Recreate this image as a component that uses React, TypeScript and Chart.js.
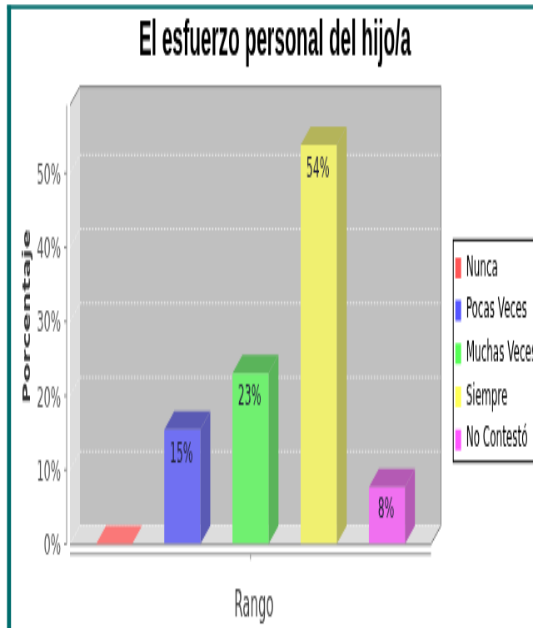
import React, { useEffect, useRef } from "react";
import { Chart, registerables } from "chart.js";

Chart.register(...registerables);

const titleText = "El esfuerzo personal del hijo/a";
const categories = [""];
const seriesNames = ["Nunca", "Pocas Veces", "Muchas Veces", "Siempre", "No Contestó"];
const seriesValues = [0, 15.4, 23, 53.8, 7.7];
const valueLabels = ["", "15%", "23%", "54%", "8%"];
const frontColors = ["#fa7878", "#7070f2", "#70f070", "#f0f070", "#f070f0"];
const sideColors = ["#fa7878", "#5a5ab4", "#5ab45a", "#b4b45a", "#b45ab4"];
const legendColors = ["#ff5555", "#5555ff", "#55ff55", "#ffff55", "#ff55ff"];

const W = 640;
const H = 273;
const DX = 12;
const DY = 8;
const FAMILY = "'DejaVu Sans', sans-serif";

const shiftTitle = (scale: any, ctx: any, dx: number, dy: number) => {
  if (scale.__shifted) return;
  const orig = scale.drawTitle;
  scale.drawTitle = function () {
    ctx.save();
    ctx.translate(dx, dy);
    orig.call(this);
    ctx.restore();
  };
  scale.__shifted = true;
};

const scene3d = {
  id: "scene3d",
  beforeLayout(chart: any) {
    const lg = chart.legend;
    if (lg && !lg.__patched) {
      const orig = lg.fit;
      lg.fit = function () {
        orig.call(this);
        this.width = 122.5;
      };
      lg.__patched = true;
    }
  },
  afterLayout(chart: any) {
    const lg = chart.legend;
    if (lg) {
      lg.left = 540;
      lg.right = 640;
      lg.top = 61.3;
      lg.bottom = 246.3;
      lg.width = 100;
      lg.height = 185;
    }
  },
  beforeDraw(chart: any) {
    const c = chart.ctx;
    shiftTitle(chart.scales.x, c, 4.2, 2);
    shiftTitle(chart.scales.y, c, 0, -3.5);
    c.save();
    c.fillStyle = "#ffffff";
    c.fillRect(0, 0, W, H);
    c.fillStyle = "#006c6c";
    c.fillRect(8.4, 2.2, W, 1.7);
    c.fillRect(8.4, 2.2, 4.8, H);
    c.restore();
  },
  beforeDatasetsDraw(chart: any) {
    const c = chart.ctx;
    const { left: l, right: r, top: t, bottom: b } = chart.chartArea;
    const poly = (pts: number[][], fill: string) => {
      c.beginPath();
      pts.forEach((p, i) => (i ? c.lineTo(p[0], p[1]) : c.moveTo(p[0], p[1])));
      c.closePath();
      c.fillStyle = fill;
      c.fill();
    };
    const seg = (x1: number, y1: number, x2: number, y2: number) => {
      c.beginPath();
      c.moveTo(x1, y1);
      c.lineTo(x2, y2);
      c.stroke();
    };
    c.save();
    poly([[l + DX, t - DY], [r + DX, t - DY], [r + DX, b - DY], [l + DX, b - DY]], "#c0c0c0");
    poly([[l, t], [l + DX, t - DY], [l + DX, b - DY], [l, b]], "#dddddd");
    poly([[l, b], [l + DX, b - DY], [r + DX, b - DY], [r, b]], "#dddddd");

    const yScale = chart.scales.y;
    c.strokeStyle = "#ececec";
    c.lineWidth = 1;
    c.setLineDash([1.8, 1.8]);
    yScale.ticks.forEach((tk: any) => {
      const y = yScale.getPixelForValue(tk.value);
      seg(l + DX, y - DY, r + DX, y - DY);
    });
    c.strokeStyle = "#eeeeee";
    yScale.ticks.forEach((tk: any) => {
      const y = yScale.getPixelForValue(tk.value);
      seg(l, y, l + DX, y - DY);
    });
    c.setLineDash([]);

    c.strokeStyle = "#808080";
    c.lineWidth = 1;
    seg(l, t, l + DX, t - DY);
    seg(l + DX, t - DY, r + DX, t - DY);
    seg(r + DX, t - DY, r + DX, b - DY);
    seg(r + DX, b - DY, r, b);
    seg(l, b + 0.3, r, b + 0.3);

    // axis lines, offset from the plot
    c.strokeStyle = "#8c8c8c";
    seg(l - 4, t, l - 4, b);
    yScale.ticks.forEach((tk: any) => {
      const y = yScale.getPixelForValue(tk.value);
      seg(l - 7, y, l - 4, y);
    });
    const xScale = chart.scales.x;
    seg(l, b + 4.3, r, b + 4.3);
    const tx = xScale.getPixelForTick(0);
    seg(tx, b + 4.3, tx, b + 6.8);

    chart.data.datasets.forEach((ds: any, i: number) => {
      const bar = chart.getDatasetMeta(i).data[0];
      const hw = bar.width / 2;
      const x0 = bar.x - hw;
      const x1 = bar.x + hw;
      const v = bar.y;
      const base = bar.base;
      poly([[x1, v], [x1 + DX, v - DY], [x1 + DX, base - DY], [x1, base]], sideColors[i]);
      poly([[x0, v], [x0 + DX, v - DY], [x1 + DX, v - DY], [x1, v]], sideColors[i]);
    });
    c.restore();
  },
  afterDatasetsDraw(chart: any) {
    const c = chart.ctx;
    c.save();
    c.font = "12.5px 'DejaVu Sans', sans-serif";
    c.fillStyle = "#22223a";
    c.textAlign = "center";
    c.textBaseline = "middle";
    chart.data.datasets.forEach((ds: any, i: number) => {
      const bar = chart.getDatasetMeta(i).data[0];
      if (valueLabels[i]) c.fillText(valueLabels[i], bar.x - 1, bar.y + 10.4);
    });
    c.restore();
  },
  afterDraw(chart: any) {
    const c = chart.ctx;
    c.save();
    c.strokeStyle = "#000000";
    c.lineWidth = 1;
    c.strokeRect(544.2, 104.3, W, 96.4);
    c.restore();
  },
};

export default function App() {
  const ref = useRef<HTMLCanvasElement>(null);
  useEffect(() => {
    const chart = new Chart(ref.current as HTMLCanvasElement, {
      type: "bar",
      data: {
        labels: categories,
        datasets: seriesNames.map((name, i) => ({
          label: name,
          data: [seriesValues[i]],
          backgroundColor: frontColors[i],
          borderWidth: 0,
          categoryPercentage: 0.9446,
          barPercentage: 0.528,
        })),
      },
      options: {
        animation: false,
        responsive: false,
        devicePixelRatio: 1,
        layout: { padding: { left: 20, right: 0, top: 0, bottom: 0 } },
        events: [],
        scales: {
          x: {
            grid: { display: false, drawTicks: false },
            border: { display: false },
            ticks: { display: false },
            title: {
              display: true,
              text: "Rango",
              color: "#444444",
              font: { family: FAMILY, size: 15 },
              padding: { top: 0, bottom: 1.5 },
            },
            afterFit(s: any) {
              s.height = 36.5;
            },
          },
          y: {
            min: 0,
            max: 59.2,
            grid: { display: false, drawTicks: false },
            border: { display: false },
            ticks: {
              stepSize: 10,
              includeBounds: false,
              padding: 10.8,
              labelOffset: 1.2,
              color: "#555555",
              font: { family: FAMILY, size: 13 },
              callback: (v: any) => v + "%",
            },
            title: {
              display: true,
              text: "Porcentaje",
              color: "#333333",
              font: { family: FAMILY, size: 12.5, weight: "bold" },
              padding: { top: 5, bottom: 0 },
            },
            afterFit(s: any) {
              s.width = 64;
            },
          },
        },
        plugins: {
          title: {
            display: true,
            text: titleText,
            color: "#000000",
            font: { family: "'Liberation Sans', sans-serif", size: 22.7, weight: "bold" },
            padding: { top: 4.2, bottom: 14.2 },
          },
          legend: {
            display: true,
            position: "right",
            labels: {
              boxWidth: 7,
              boxHeight: 9,
              padding: 6.7,
              color: "#444444",
              font: { family: FAMILY, size: 12 },
              generateLabels: () =>
                seriesNames.map((name, i) => ({
                  text: name,
                  fillStyle: legendColors[i],
                  strokeStyle: legendColors[i],
                  lineWidth: 0,
                  datasetIndex: i,
                })),
            },
          },
          tooltip: { enabled: false },
        },
      },
      plugins: [scene3d],
    } as any);
    return () => chart.destroy();
  }, []);

  return (
    <div style={{ position: "absolute", left: 0, top: 0, width: 533, height: 628, overflow: "hidden", background: "#fff" }}>
      <canvas
        ref={ref}
        width={W}
        height={H}
        style={{
          display: "block",
          width: W,
          height: H,
          transformOrigin: "0 0",
          transform: `scale(${533 / W}, ${628 / H})`,
        }}
      />
    </div>
  );
}
